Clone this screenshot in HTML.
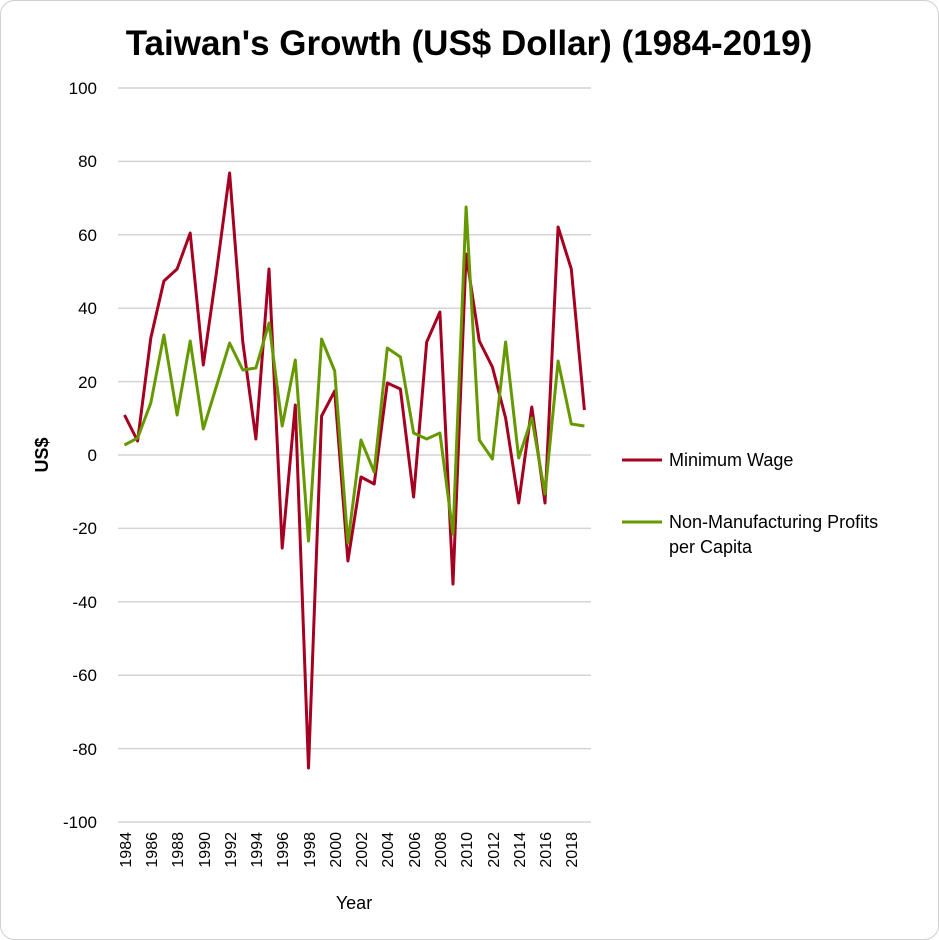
<!DOCTYPE html>
<html><head><meta charset="utf-8"><style>
body{margin:0;background:#fff;}
svg{display:block;font-family:"Liberation Sans",sans-serif;}
</style></head><body>
<svg width="939" height="940" viewBox="0 0 939 940" xmlns="http://www.w3.org/2000/svg">
<rect x="0.5" y="0.5" width="938" height="939" rx="14" fill="#fff" stroke="#d0d0d0"/>
<text x="469" y="55" text-anchor="middle" font-size="35" font-weight="bold" fill="#000">Taiwan's Growth (US$ Dollar) (1984-2019)</text>
<g stroke="#d4d4d4" stroke-width="1.5">
<line x1="118" x2="591" y1="88" y2="88"/><line x1="118" x2="591" y1="161.4" y2="161.4"/>
<line x1="118" x2="591" y1="234.8" y2="234.8"/><line x1="118" x2="591" y1="308.2" y2="308.2"/>
<line x1="118" x2="591" y1="381.6" y2="381.6"/><line x1="118" x2="591" y1="455" y2="455"/>
<line x1="118" x2="591" y1="528.4" y2="528.4"/><line x1="118" x2="591" y1="601.8" y2="601.8"/>
<line x1="118" x2="591" y1="675.2" y2="675.2"/><line x1="118" x2="591" y1="748.6" y2="748.6"/>
<line x1="118" x2="591" y1="822" y2="822"/>
</g>
<g font-size="17" text-anchor="end" fill="#000">
<text x="97" y="94">100</text><text x="97" y="167">80</text><text x="97" y="241">60</text>
<text x="97" y="314">40</text><text x="97" y="388">20</text><text x="97" y="461">0</text>
<text x="97" y="534">-20</text><text x="97" y="608">-40</text><text x="97" y="681">-60</text>
<text x="97" y="755">-80</text><text x="97" y="828">-100</text>
</g>
<text transform="translate(48,455) rotate(-90)" text-anchor="middle" font-size="18" font-weight="bold">US$</text>
<g font-size="16" text-anchor="end" fill="#000">
<text transform="translate(131,832) rotate(-90)">1984</text>
<text transform="translate(157,832) rotate(-90)">1986</text>
<text transform="translate(183,832) rotate(-90)">1988</text>
<text transform="translate(210,832) rotate(-90)">1990</text>
<text transform="translate(236,832) rotate(-90)">1992</text>
<text transform="translate(262,832) rotate(-90)">1994</text>
<text transform="translate(288,832) rotate(-90)">1996</text>
<text transform="translate(315,832) rotate(-90)">1998</text>
<text transform="translate(341,832) rotate(-90)">2000</text>
<text transform="translate(367,832) rotate(-90)">2002</text>
<text transform="translate(393,832) rotate(-90)">2004</text>
<text transform="translate(420,832) rotate(-90)">2006</text>
<text transform="translate(446,832) rotate(-90)">2008</text>
<text transform="translate(472,832) rotate(-90)">2010</text>
<text transform="translate(499,832) rotate(-90)">2012</text>
<text transform="translate(525,832) rotate(-90)">2014</text>
<text transform="translate(551,832) rotate(-90)">2016</text>
<text transform="translate(577,832) rotate(-90)">2018</text>
</g>
<text x="354" y="909" text-anchor="middle" font-size="18">Year</text>
<polyline fill="none" stroke="#a50021" stroke-width="3" stroke-linejoin="round" points="124.5,415 137.6,441 150.8,338 163.9,281 177.1,269 190.2,233 203.3,365 216.5,272 229.6,173 242.8,342 255.9,439 269,269 282.2,548 295.3,405 308.5,768 321.6,416 334.7,391 347.9,561 361,477 374.2,484 387.3,383 400.4,389 413.6,497 426.7,342 439.9,312 453,584 466.1,254 479.3,341 492.4,367 505.6,418 518.7,503 531.8,407 545,503 558.1,227 571.3,269 584.4,410"/>
<polyline fill="none" stroke="#669900" stroke-width="3" stroke-linejoin="round" points="124.5,445 137.6,438 150.8,403 163.9,335 177.1,415 190.2,341 203.3,429 216.5,386 229.6,343 242.8,370 255.9,368 269,323 282.2,426 295.3,360 308.5,541 321.6,339 334.7,371 347.9,543 361,440 374.2,472 387.3,348 400.4,357 413.6,433 426.7,439 439.9,433 453,534 466.1,207 479.3,440 492.4,459 505.6,342 518.7,458 531.8,418 545,494 558.1,361 571.3,424 584.4,426"/>
<line x1="622" x2="662" y1="460" y2="460" stroke="#a50021" stroke-width="3"/>
<text x="669" y="466" font-size="18">Minimum Wage</text>
<line x1="622" x2="662" y1="522" y2="522" stroke="#669900" stroke-width="3"/>
<text x="669" y="528" font-size="18">Non-Manufacturing Profits</text>
<text x="669" y="553" font-size="18">per Capita</text>
</svg>
</body></html>
